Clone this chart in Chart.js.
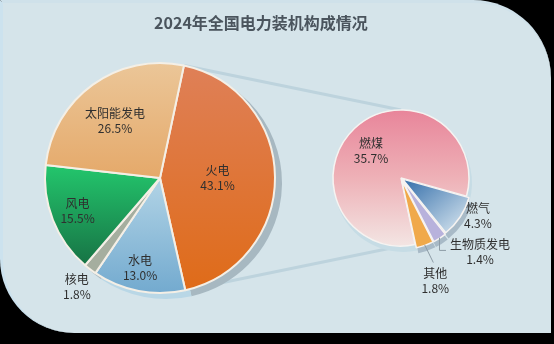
<!DOCTYPE html>
<html><head><meta charset="utf-8">
<script src="https://cdn.jsdelivr.net/npm/chart.js@4.4.1/dist/chart.umd.min.js"></script>
<style>
html,body{margin:0;padding:0;background:#000;width:554px;height:344px;overflow:hidden;}
#panel{position:absolute;left:0;top:0;width:548px;height:330px;background:#d5e4ea;border-radius:0 78px 0 74px;border-left:3px solid #cce2ee;border-top:3px solid #cfe1ea;}
#title{position:absolute;left:0;width:522px;top:10px;line-height:20px;text-align:center;font:bold 16px "Noto Sans CJK SC",sans-serif;color:#4a545d;}
#bg{position:absolute;left:0;top:0;}
.box{position:absolute;}
</style></head>
<body>
<div id="panel"></div>
<canvas id="bg" width="554" height="344"></canvas>
<div class="box" id="b1" style="left:20px;top:48px;width:280px;height:260px"><canvas id="c1"></canvas></div>
<div class="box" id="b2" style="left:310px;top:78px;width:220px;height:235px"><canvas id="c2"></canvas></div>
<div id="title">2024年全国电力装机构成情况</div>
<script>
// ---- data ----
const mainLabels = ['火电', '水电', '核电', '风电', '太阳能发电'];
const mainValues = [43.1, 13.0, 1.8, 15.5, 26.5];
const thermalLabels = ['燃煤', '燃气', '生物质发电', '其他'];
const thermalValues = [35.7, 4.3, 1.4, 1.8];

// ---- styles ----
const R1 = 115, R2 = 68;
const mainFills = [
  {x0:0,y0:-1,x1:0,y1:1,stops:[[0,'#df8058'],[1,'#df6b18']]},
  {x0:0,y0:-1,x1:0,y1:1,stops:[[0.5,'#b2d4e6'],[1,'#73aacf']]},
  '#a5ae9f',
  {x0:0,y0:-1,x1:0,y1:1,stops:[[0.45,'#23c56c'],[0.92,'#166b41']]},
  {x0:0,y0:-1,x1:0,y1:1,stops:[[0,'#ebc698'],[0.5,'#e5a96a']]}
];
const thermalFills = [
  {x0:0,y0:-1,x1:0,y1:1,stops:[[0,'#e8859a'],[0.5,'#eeb1b7'],[1,'#f3e5e3']]},
  {x0:0.1,y0:-0.05,x1:0.75,y1:0.75,stops:[[0,'#3670ab'],[1,'#c6d9e8']]},
  '#b8b2dc',
  '#f0a94a'
];
const mainShadow = ['#a7b8c1','#b9d7e6','#a9b9c1','#a9b9c1','#a9b9c1'];
const thermalShadow = ['#c6dce5','#a8bac7','#a8bac7','#a8bac7'];

function makeFill(chart, spec, r) {
  if (typeof spec === 'string') return spec;
  const a = chart.chartArea;
  if (!a) return spec.stops[0][1];
  const cx = (a.left + a.right) / 2, cy = (a.top + a.bottom) / 2;
  const g = chart.ctx.createLinearGradient(cx + spec.x0 * r, cy + spec.y0 * r, cx + spec.x1 * r, cy + spec.y1 * r);
  spec.stops.forEach(s => g.addColorStop(s[0], s[1]));
  return g;
}

const shadowPlugin = {
  id: 'sliceShadow',
  beforeDatasetsDraw(chart, args, opts) {
    const ctx = chart.ctx;
    const meta = chart.getDatasetMeta(0);
    ctx.save();
    meta.data.forEach((arc, i) => {
      const p = arc.getProps(['x','y','startAngle','endAngle','outerRadius'], true);
      const mid = (p.startAngle + p.endAngle) / 2;
      const off = (opts.shift && opts.shift[i]) || 0;
      const cx = p.x + opts.dx + Math.cos(mid) * off, cy = p.y + opts.dy + Math.sin(mid) * off;
      ctx.beginPath();
      ctx.moveTo(cx, cy);
      ctx.arc(cx, cy, p.outerRadius + 1, p.startAngle, p.endAngle);
      ctx.closePath();
      ctx.fillStyle = opts.colors[i];
      ctx.fill();
    });
    ctx.restore();
  }
};

const labelPlugin = {
  id: 'sliceLabels',
  afterDatasetsDraw(chart, args, opts) {
    const ctx = chart.ctx;
    const meta = chart.getDatasetMeta(0);
    const labels = chart.data.labels;
    const vals = chart.data.datasets[0].data;
    ctx.save();
    ctx.font = '12px "Noto Sans CJK SC", sans-serif';
    ctx.textAlign = 'center';
    ctx.textBaseline = 'middle';
    meta.data.forEach((arc, i) => {
      const p = arc.getProps(['x','y','startAngle','endAngle','outerRadius'], true);
      const mid = (p.startAngle + p.endAngle) / 2;
      const f = opts.radius[i];
      const n = (opts.nudge && opts.nudge[i]) || [0, 0];
      const lx = p.x + Math.cos(mid) * p.outerRadius * f + n[0];
      const ly = p.y + Math.sin(mid) * p.outerRadius * f + n[1];
      const L = opts.leader && opts.leader[i];
      if (L) {
        const ex = p.x + Math.cos(mid) * (p.outerRadius + 3);
        const ey = p.y + Math.sin(mid) * (p.outerRadius + 3);
        ctx.strokeStyle = '#8d9ca6';
        ctx.lineWidth = 1;
        ctx.beginPath();
        ctx.moveTo(ex, ey);
        if (L === 'elbow') { ctx.lineTo(ex, ly - 1); ctx.lineTo(lx - 34, ly - 1); }
        else { ctx.lineTo(lx - 2, ly - 18); }
        ctx.stroke();
      }
      ctx.fillStyle = '#2f2f2f';
      ctx.fillText(labels[i], lx, ly - 7);
      ctx.fillText(vals[i].toFixed(1) + '%', lx, ly + 8);
    });
    ctx.restore();
  }
};

const ch1 = new Chart(document.getElementById('c1'), {
  type: 'pie',
  data: {
    labels: mainLabels,
    datasets: [{
      data: mainValues,
      backgroundColor: c => makeFill(c.chart, mainFills[c.dataIndex], R1),
      borderColor: '#f4efe6',
      borderWidth: 2
    }]
  },
  options: {
    responsive: true,
    maintainAspectRatio: false,
    animation: false,
    radius: R1,
    rotation: 12,
    layout: { padding: 0 },
    events: [],
    plugins: {
      legend: { display: false },
      tooltip: { enabled: false },
      sliceShadow: { dx: 6, dy: 5, colors: mainShadow },
      sliceLabels: { radius: [0.5, 0.79, 1.19, 0.77, 0.64], nudge: [[0,0],[-3,0],[0,0],[0,0],[-2,2]] }
    }
  },
  plugins: [shadowPlugin, labelPlugin]
});

const ch2 = new Chart(document.getElementById('c2'), {
  type: 'pie',
  data: {
    labels: thermalLabels,
    datasets: [{
      data: thermalValues,
      backgroundColor: c => makeFill(c.chart, thermalFills[c.dataIndex], R2),
      borderColor: '#f6f3f1',
      borderWidth: 1.5,
      offset: [0, 8, 8, 8]
    }]
  },
  options: {
    responsive: true,
    maintainAspectRatio: false,
    animation: false,
    radius: R2,
    rotation: 168,
    layout: { padding: { right: 38, bottom: 35 } },
    events: [],
    plugins: {
      legend: { display: false },
      tooltip: { enabled: false },
      sliceShadow: { dx: 2, dy: 5, colors: thermalShadow, shift: [0, 3, 3, 3] },
      sliceLabels: {
        radius: [0.6, 1.25, 1.6, 1.6],
        nudge: [[-2,2],[6,-9],[20,-18],[-2,0]],
        leader: [null, null, 'elbow', 'straight']
      }
    }
  },
  plugins: [shadowPlugin, labelPlugin]
});

function drawConnectors() {
  const bg = document.getElementById('bg').getContext('2d');
  const b1 = document.getElementById('b1'), b2 = document.getElementById('b2');
  const a = ch1.getDatasetMeta(0).data[0];
  const b = ch2.getDatasetMeta(0).data[0];
  const ox1 = b1.offsetLeft, oy1 = b1.offsetTop, ox2 = b2.offsetLeft, oy2 = b2.offsetTop;
  const p1 = [ox1 + a.x + Math.cos(a.startAngle) * a.outerRadius, oy1 + a.y + Math.sin(a.startAngle) * a.outerRadius];
  const p2 = [ox1 + a.x + Math.cos(a.endAngle) * a.outerRadius, oy1 + a.y + Math.sin(a.endAngle) * a.outerRadius];
  const q1 = [ox2 + b.x, oy2 + b.y - b.outerRadius];
  const q2 = [ox2 + b.x, oy2 + b.y + b.outerRadius];
  bg.strokeStyle = '#bdd3dd';
  bg.lineWidth = 3;
  bg.beginPath(); bg.moveTo(p1[0], p1[1]); bg.lineTo(q1[0], q1[1]); bg.stroke();
  bg.beginPath(); bg.moveTo(p2[0], p2[1]); bg.lineTo(q2[0], q2[1]); bg.stroke();
}
drawConnectors();
</script>
</body></html>
